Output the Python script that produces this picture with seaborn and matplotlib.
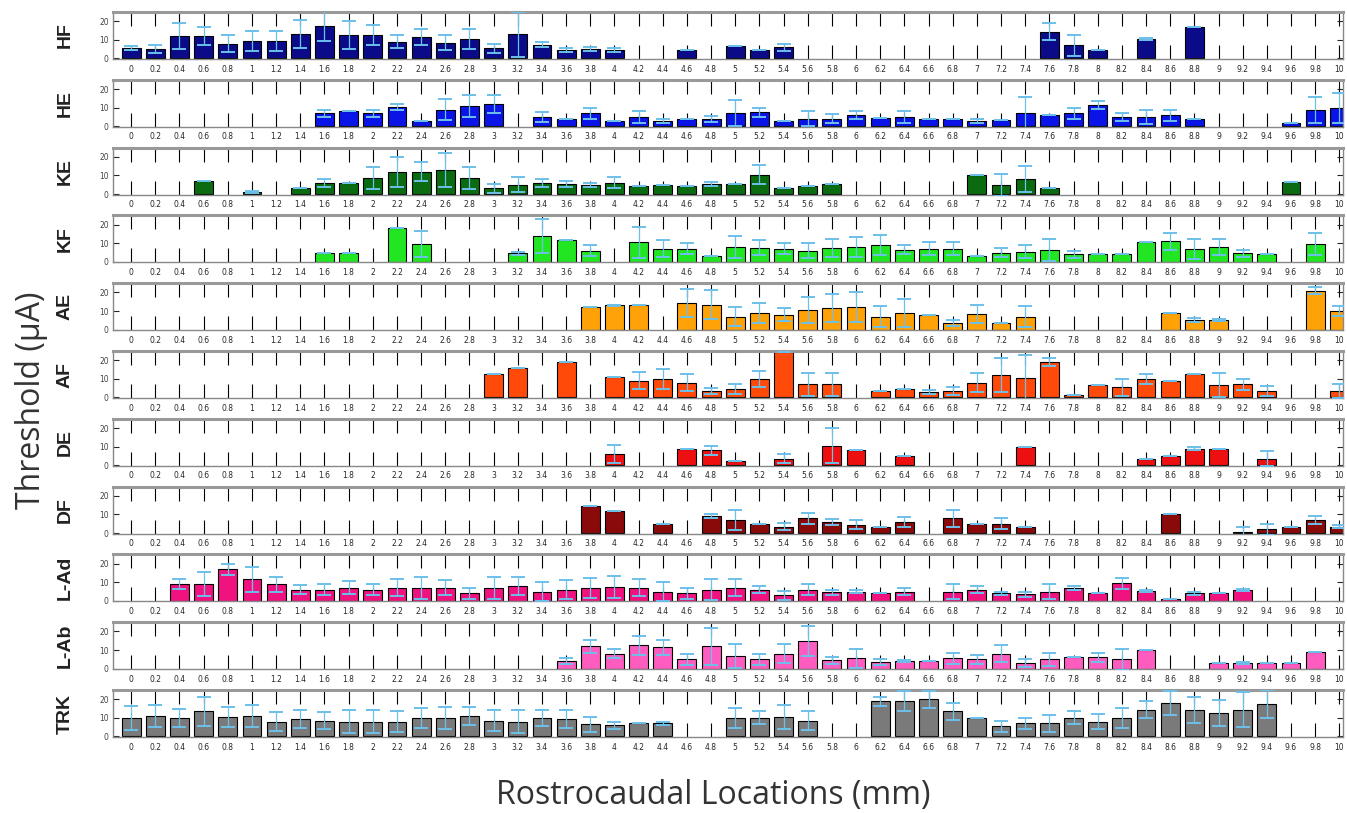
import numpy as np
import pandas as pd
import seaborn as sns
from matplotlib import pyplot as plt

nan = np.nan

# rostrocaudal positions 0..10 mm every 0.2
locations = [round(0.2 * i, 1) for i in range(51)]
loc_labels = [f"{v:g}" for v in locations]

muscles = ["HF", "HE", "KE", "KF", "AE", "AF", "DE", "DF", "L-Ad", "L-Ab", "TRK"]
colors = ["#0b0b8a", "#0a14e6", "#0b6b10", "#22e622", "#ffa208", "#ff4a0a",
          "#ee1010", "#8a0a0a", "#f0127f", "#ff5cc0", "#7a7a7a"]

# mean thresholds (uA), NaN = no response
hf = [5.5, 5, 12, 12, 8, 9.5, 9.5, 13, 17.5, 12.5, 12.5, 9, 11.5, 8.5, 10.5, 5.5, 13, 7.5, 4.5, 5, 4.5,
      nan, nan, 4.5, nan, 6.5, 4.5, 6, nan, nan, nan, nan, nan, nan, nan, nan, nan, nan, 14.5, 7, 4.5,
      nan, 10.5, nan, 17, nan, nan, nan, nan, nan, nan]
hf_err = [1, 2, 7, 5, 4.5, 5.5, 5.5, 7.5, 8, 7.5, 5.5, 3.5, 4.5, 4, 5.5, 2.5, 12, 1.5, 1, 1, 1,
          nan, nan, 0, nan, 0, 0, 2, nan, nan, nan, nan, nan, nan, nan, nan, nan, nan, 4.5, 5.5, 0,
          nan, 0.5, nan, 0, nan, nan, nan, nan, nan, nan]

he = [nan, nan, nan, nan, nan, nan, nan, nan, 7, 8, 7, 10.5, 3, 9, 11, 12, nan, 5, 4, 7, 3,
      5, 3, 4, 4, 7, 7.5, 3, 4, 4, 6, 4.5, 5, 4, 4, 3, 3.5, 7, 6, 7, 11.5,
      5, 5, 6, 4, nan, nan, nan, 2, 8.5, 10]
he_err = [nan, nan, nan, nan, nan, nan, nan, nan, 2, 0, 2, 1.5, 0, 5.5, 6, 5, nan, 2.5, 0, 3, 0,
          3, 1, 0, 1.5, 7, 2.5, 0, 4, 2.5, 2, 0, 3, 0, 0, 1, 0, 8.5, 0, 3, 2,
          2, 4, 3, 0, nan, nan, nan, 0, 7, 8]

ke = [nan, nan, nan, 7, nan, 1, nan, 3, 6, 6, 8.5, 12, 12, 13, 8.5, 3, 5, 6, 5.5, 5, 6,
      4.5, 5, 4.5, 5.5, 5.5, 10.5, 3, 4.5, 5.5, nan, nan, nan, nan, nan, 10, 5, 8, 3, nan, nan,
      nan, nan, nan, nan, nan, nan, nan, 6.5, nan, nan]
ke_err = [nan, nan, nan, 0, nan, 0.5, nan, 0, 2, 0, 6, 8, 5, 9, 6, 2.5, 4, 2, 1.5, 1, 3,
          0, 0, 0, 1, 0, 5, 0, 0, 0, nan, nan, nan, nan, nan, 0, 6, 7, 0, nan, nan,
          nan, nan, nan, nan, nan, nan, nan, 0, nan, nan]

kf = [nan, nan, nan, nan, nan, nan, nan, nan, 4.5, 5, nan, 18, 9.5, nan, nan, nan, 4.5, 14, 12, 6, nan,
      10.5, 7, 7, 3, 8, 7.5, 7, 6, 7.5, 8, 9, 6.5, 7, 7, 3, 5, 5.5, 6.5, 4, 4,
      4, 10.5, 11, 7, 8, 4.5, 4, nan, 9.5, nan]
kf_err = [nan, nan, nan, nan, nan, nan, nan, nan, 0, 0, nan, 0, 7, nan, nan, nan, 1, 9, 0, 3, nan,
          8.5, 4.5, 3, 0, 6, 4, 3, 4, 5, 5.5, 5.5, 2.5, 3.5, 3.5, 0, 2.5, 3.5, 6, 2, 0,
          0, 0, 4.5, 5.5, 4.5, 2, 0, nan, 6, nan]

ae = [nan, nan, nan, nan, nan, nan, nan, nan, nan, nan, nan, nan, nan, nan, nan, nan, nan, nan, nan, 12, 13,
      13, nan, 14.5, 13.5, 7, 9, 8, 10.5, 11.5, 12, 7, 9, 8, 3.5, 8.5, 3.5, 7, nan, nan, nan,
      nan, nan, 9, 5, 5, nan, nan, nan, 21, 10]
ae_err = [nan, nan, nan, nan, nan, nan, nan, nan, nan, nan, nan, nan, nan, nan, nan, nan, nan, nan, nan, 0, 0.5,
          0, nan, 7.5, 8, 5, 5.5, 3.5, 7, 7.5, 8, 5.5, 7.5, 0, 1.5, 5, 0, 5.5, nan, nan, nan,
          nan, nan, 0, 1, 0.5, nan, nan, nan, 2, 2.5]

af = [nan, nan, nan, nan, nan, nan, nan, nan, nan, nan, nan, nan, nan, nan, nan, 12.5, 16, nan, 19, nan, 11,
      9, 10, 8, 3.5, 4.5, 10, 24.5, 7, 7, nan, 3.5, 4.5, 3, 3.5, 8, 12, 10.5, 19, 1.5, 6.5,
      5.5, 10, 9, 12.5, 6.5, 7, 3.5, nan, nan, 3.5]
af_err = [nan, nan, nan, nan, nan, nan, nan, nan, nan, nan, nan, nan, nan, nan, nan, 0, 0, nan, 0, nan, 0,
          4.5, 5.5, 4.5, 1.5, 2.5, 4.5, 0, 6, 6, nan, 0, 0, 1, 2, 5, 9, 12.5, 2, 0, 0,
          4.5, 2.5, 0, 0, 6.5, 3, 2.5, nan, nan, 4]

de = [nan] * 20 + [6, nan, nan, 9, 8, 2.5, nan, 3.5, nan, 10.5, 8, nan, 5, nan, nan, nan, nan, 10, nan, nan, nan,
                   nan, 3.5, 5, 9, 9, nan, 3.5, nan, nan, nan]
de_err = [nan] * 20 + [5, nan, nan, 0, 2.5, 0, nan, 2.5, nan, 9.5, 0, nan, 0, nan, nan, nan, nan, 0, nan, nan, nan,
                       nan, 0, 0, 1, 0, nan, 4, nan, nan, nan]

df_ = [nan] * 19 + [14.5, 12, nan, 5, nan, 9, 7, 5, 3.5, 8, 6, 4.5, 3.5, 6, nan, 8, 5, 5, 3, nan, nan, nan,
                    nan, nan, 10.5, nan, nan, 0.5, 2, 3, 7, 3.5]
df_err = [nan] * 19 + [0, 0, nan, 0, nan, 1, 5.5, 0, 2, 3, 1.5, 2.5, 0, 2.5, nan, 4.5, 0, 3, 0, nan, nan, nan,
                       nan, nan, 0, nan, nan, 2.5, 3, 0, 2, 1]

lad = [nan, nan, 9, 9, 17, 11.5, 9, 6, 6, 7, 6, 7, 7, 7, 4, 7, 8, 5, 6, 7, 7.5,
       7, 5, 4, 6, 7, 6, 3, 6, 4.5, 5, 4, 5, nan, 5, 6, 4, 3.5, 5, 7, 4,
       9.5, 5.5, 1, 4, 4, 6, nan, nan, nan, nan]
lad_err = [nan, nan, 2.5, 6.5, 3, 6.5, 4, 2.5, 3, 3.5, 3, 4.5, 6, 4, 3, 6, 5, 5, 5, 5.5, 6,
           4.5, 5, 3, 5.5, 4.5, 2, 2.5, 3, 1.5, 1, 0, 2, nan, 4, 2, 1, 1.5, 4, 1, 0,
           3, 0.5, 0, 1, 0, 0.5, nan, nan, nan, nan]

lab = [nan] * 18 + [4, 12, 8, 12.5, 11.5, 5, 12, 7, 5, 8, 15, 4.5, 5.5, 3.5, 4, 4, 5.5, 5, 8, 3, 5, 6, 6,
                    5, 10, nan, nan, 3, 3, 3, 3, 9, nan]
lab_err = [nan] * 18 + [1.5, 3.5, 2.5, 5, 4, 3, 10, 6.5, 3, 5, 8, 2, 5, 1.5, 0.5, 0, 3, 2.5, 4.5, 2, 3.5, 0, 2.5,
                        5.5, 0, nan, nan, 0, 0.5, 0, 0, 0, nan]

trk = [10, 11, 10, 13.5, 10.5, 11, 8, 9.5, 8.5, 8, 8, 8, 10, 10, 11, 8.5, 8, 10, 9.5, 6.5, 6,
       7, 7, nan, nan, 10, 10, 10.5, 8.5, nan, nan, 19, 19, 20, 13.5, 10, 5.5, 7, 7, 10, 8,
       10, 14.5, 18, 14.5, 12.5, 14.5, 17.5, nan, nan, nan]
trk_err = [6.5, 6, 5, 8, 5.5, 6, 5, 5, 4.5, 6, 6, 5.5, 5.5, 6, 5, 5.5, 6, 4.5, 5, 4, 2,
           0, 1, nan, nan, 5.5, 3.5, 6.5, 5, nan, nan, 2.5, 5.5, 4.5, 4.5, 0, 3, 3, 4.5, 3.5, 4,
           5.5, 4.5, 6.5, 7, 7, 9.5, 7.5, nan, nan, nan]

means = [hf, he, ke, kf, ae, af, de, df_, lad, lab, trk]
errors = [hf_err, he_err, ke_err, kf_err, ae_err, af_err, de_err, df_err, lad_err, lab_err, trk_err]

sns.set_style("white")
plt.rcParams['font.family'] = ['DejaVu Sans']

W, H = 1347, 813
fig = plt.figure(figsize=(W / 100, H / 100), dpi=100)

left_px, right_px = 113, 1343
top0, ax_h, period = 12, 47, 67.8

for i, (name, col, m, e) in enumerate(zip(muscles, colors, means, errors)):
    top = top0 + i * period
    ax = fig.add_axes([left_px / W, 1 - (top + ax_h) / H, (right_px - left_px) / W, ax_h / H])
    data = pd.DataFrame({"loc": loc_labels, "thr": m})
    sns.barplot(data=data, x="loc", y="thr", order=loc_labels, color=col, saturation=1,
                edgecolor="black", linewidth=0.8, width=0.78, errorbar=None, ax=ax)
    ax.errorbar(np.arange(len(loc_labels)), m, yerr=e, fmt="none", ecolor="#6cc0ea",
                elinewidth=0.9, capsize=5, capthick=1.4, zorder=5)
    ax.set_xlim(-0.75, 50.15)
    ax.set_ylim(-0.3, 25)
    ax.set_yticks([0, 10, 20])
    ax.set_xlabel("")
    ax.set_ylabel("")
    ax.set_xticks(np.arange(len(loc_labels)))
    ax.set_xticklabels(loc_labels, fontsize=5.5)
    ax.tick_params(axis="x", direction="in", length=10, width=0.8, color="black",
                   top=True, bottom=True, pad=4)
    ax.tick_params(axis="y", direction="in", length=4, width=0.8, left=True, right=True,
                   labelsize=5.5, pad=3, labelcolor="#444444")
    for s in ax.spines.values():
        s.set_color("#888888")
        s.set_linewidth(1)
    ax.spines["top"].set_linewidth(2.2)
    ax.spines["top"].set_color("#999999")
    fig.text(65 / W, 1 - (top + ax_h / 2) / H, name, rotation=90, ha="center", va="center",
             fontsize=14, fontweight="bold", family="Liberation Sans", color="#222222")

fig.text(32 / W, 1 - 400 / H, "Threshold (µA)", rotation=90, ha="center", va="center",
         fontsize=23, family="Open Sans", color="#333333")
fig.text(713 / W, 1 - 795 / H, "Rostrocaudal Locations (mm)", ha="center", va="center",
         fontsize=23, family="Open Sans", color="#333333")

fig.savefig("out.png", dpi=100)
